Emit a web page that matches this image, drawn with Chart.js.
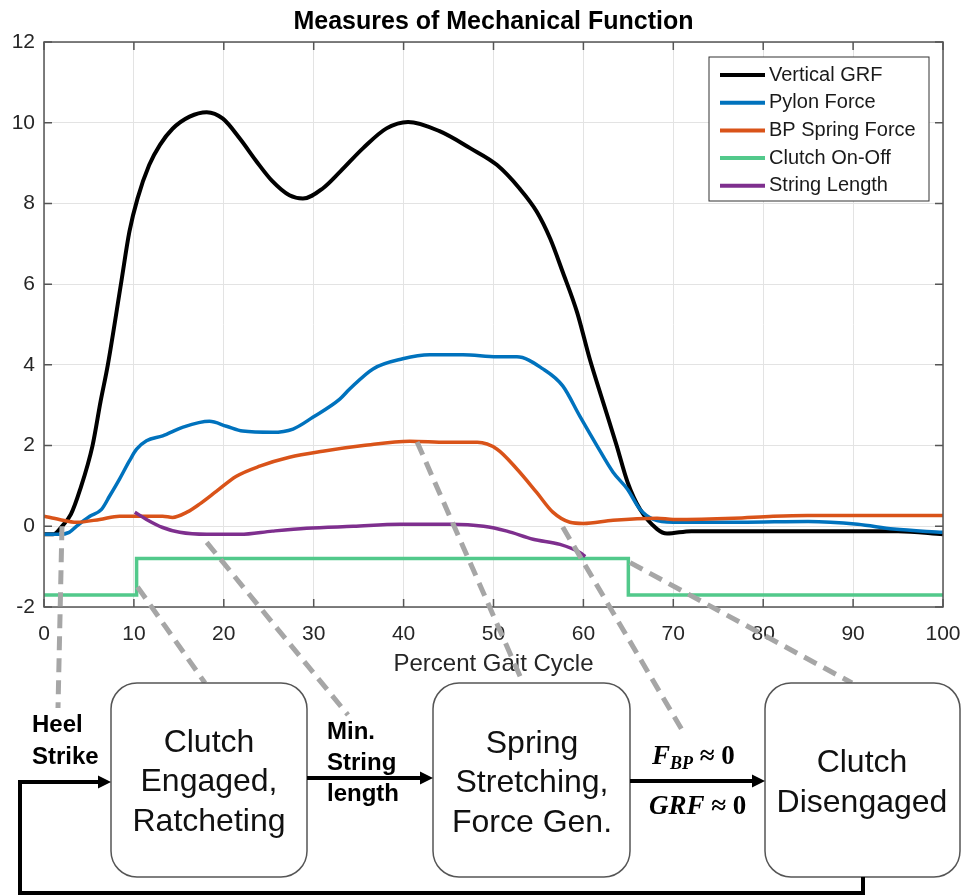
<!DOCTYPE html>
<html>
<head>
<meta charset="utf-8">
<script src="https://cdn.jsdelivr.net/npm/chart.js@4.4.1/dist/chart.umd.min.js"></script>
<style>
	html, body { margin: 0; padding: 0; background: #fff; }
	#wrap { position: relative; width: 966px; height: 895px; }
</style>
</head>
<body>
<div id="wrap"><canvas id="chart"></canvas></div>
<script>
// percent gait cycle (x) and value (y) for each trace
const grfPct = [0, 1, 2, 3, 4, 5.4, 6.3, 7.1, 8.6, 9.5, 10.4, 11.7, 12.9, 14.3, 16.2, 18.1, 19.9, 21.8, 23.6, 25.4, 27.3, 28.8, 31, 33, 35.5, 38.1, 40.5, 44, 47.4, 50.4, 52.9, 54.8, 56.3, 57.7, 59.3, 60.7, 62.2, 63.7, 64.9, 66.3, 68.2, 69.3, 72, 80, 90, 95, 100];
const grfVal = [-0.2, -0.2, 0, 0.3, 0.9, 2.0, 3.1, 4.0, 6.06, 7.3, 8.12, 8.95, 9.45, 9.85, 10.15, 10.26, 10.1, 9.6, 9.05, 8.55, 8.2, 8.12, 8.37, 8.8, 9.37, 9.86, 10.02, 9.79, 9.37, 8.95, 8.37, 7.8, 7.13, 6.3, 5.3, 4.15, 3.07, 2.0, 1.1, 0.42, -0.07, -0.18, -0.12, -0.12, -0.12, -0.12, -0.2];

const pylonPct = [0, 1.7, 2.8, 3.6, 5.1, 6.4, 7.3, 8.4, 9.5, 10.3, 11.4, 13.2, 15.4, 18.4, 20.3, 22.1, 25.4, 27.7, 29.9, 32.9, 34, 36.6, 39.9, 42.9, 46.6, 50.4, 52.6, 55.5, 57.7, 59.6, 61.5, 63.3, 64.9, 66.3, 67.8, 70, 77.5, 85, 90.5, 94.5, 100];
const pylonVal = [-0.2, -0.2, -0.15, 0, 0.25, 0.42, 0.75, 1.17, 1.62, 1.91, 2.12, 2.24, 2.45, 2.6, 2.48, 2.36, 2.33, 2.41, 2.7, 3.15, 3.4, 3.9, 4.15, 4.25, 4.25, 4.2, 4.2, 3.9, 3.48, 2.73, 2.0, 1.34, 0.92, 0.42, 0.17, 0.1, 0.1, 0.12, 0.05, -0.07, -0.15];

const springPct = [0, 1.7, 3.6, 6.2, 8.4, 10.3, 13.2, 14.3, 15.9, 17.3, 19.2, 21.4, 24, 27.3, 31, 35.5, 40.7, 44.8, 48.2, 50.4, 52.6, 54.8, 56.6, 58.5, 60, 63.3, 68.2, 70, 76.7, 81.1, 84.9, 100];
const springVal = [0.25, 0.17, 0.1, 0.17, 0.25, 0.25, 0.25, 0.22, 0.35, 0.55, 0.87, 1.24, 1.49, 1.71, 1.86, 2.0, 2.11, 2.08, 2.08, 1.91, 1.42, 0.84, 0.35, 0.1, 0.07, 0.15, 0.2, 0.17, 0.2, 0.25, 0.27, 0.27];

const clutchPct = [0, 10.3, 65, 100];
const clutchVal = [-1.7, -0.8, -1.7, -1.7];

const stringPct = [10.1, 11.4, 13.2, 15.1, 18.1, 21.8, 25.4, 29.2, 34.4, 39.6, 45.2, 48.9, 51.5, 54.4, 57.4, 59.6, 60.2];
const stringVal = [0.35, 0.17, -0.03, -0.15, -0.2, -0.2, -0.12, -0.05, 0, 0.05, 0.05, 0, -0.12, -0.32, -0.45, -0.65, -0.75];

const seriesNames = ["Vertical GRF", "Pylon Force", "BP Spring Force", "Clutch On-Off", "String Length"];
const seriesColors = ["#000000", "#0072BD", "#D95319", "#52C98B", "#7E2F8E"];

// dashed callouts: start on the plot (data units) -> end at the diagram below
const calloutFrom = [[2, 0], [10.4, -1.5], [18.1, -0.4], [41.5, 2.09], [57.7, -0.02], [65.2, -0.9]];
const calloutTo = [[58, 708], [205, 683], [348, 715], [523, 683], [685, 735], [852, 683]];

const SANS = "'Liberation Sans', Arial, sans-serif";
const SERIF = "'Liberation Serif', 'DejaVu Serif', serif";

function pairs(xs, ys) {
	return xs.map((x, i) => ({ x: x, y: ys[i] }));
}

const traces = [
	pairs(grfPct, grfVal),
	pairs(pylonPct, pylonVal),
	pairs(springPct, springVal),
	pairs(clutchPct, clutchVal),
	pairs(stringPct, stringVal),
];

const datasets = traces.map((d, i) => ({
	label: seriesNames[i],
	data: d,
	borderColor: seriesColors[i],
	backgroundColor: seriesColors[i],
	borderWidth: i === 0 ? 4 : 3.5,
	pointRadius: 0,
	cubicInterpolationMode: "monotone",
	stepped: i === 3 ? "before" : false,
	order: 5 - i,
}));

// axes box with inward ticks, like the original plot
const axesBox = {
	id: "axesBox",
	afterDatasetsDraw(chart) {
		const { ctx, chartArea: a, scales } = chart;
		ctx.save();
		ctx.strokeStyle = "#555";
		ctx.lineWidth = 1.5;
		ctx.strokeRect(a.left, a.top, a.right - a.left, a.bottom - a.top);
		ctx.beginPath();
		scales.x.ticks.forEach((t) => {
			const px = scales.x.getPixelForValue(t.value);
			ctx.moveTo(px, a.bottom); ctx.lineTo(px, a.bottom - 8);
			ctx.moveTo(px, a.top); ctx.lineTo(px, a.top + 8);
		});
		scales.y.ticks.forEach((t) => {
			const py = scales.y.getPixelForValue(t.value);
			ctx.moveTo(a.left, py); ctx.lineTo(a.left + 8, py);
			ctx.moveTo(a.right, py); ctx.lineTo(a.right - 8, py);
		});
		ctx.stroke();

		// legend box in the upper right corner
		const lx = a.right - 234, ly = a.top + 15, lw = 220, lh = 144;
		ctx.fillStyle = "#fff";
		ctx.fillRect(lx, ly, lw, lh);
		ctx.strokeStyle = "#333";
		ctx.lineWidth = 1;
		ctx.strokeRect(lx, ly, lw, lh);
		ctx.font = "20px " + SANS;
		ctx.textBaseline = "middle";
		ctx.textAlign = "left";
		chart.data.datasets.forEach((ds, i) => {
			const ry = ly + 18 + i * 27.7;
			ctx.strokeStyle = ds.borderColor;
			ctx.lineWidth = 4;
			ctx.beginPath();
			ctx.moveTo(lx + 11, ry);
			ctx.lineTo(lx + 56, ry);
			ctx.stroke();
			ctx.fillStyle = "#1a1a1a";
			ctx.fillText(ds.label, lx + 60, ry);
		});
		ctx.restore();
	},
};

function arrow(ctx, x1, y1, x2, y2) {
	ctx.beginPath();
	ctx.moveTo(x1, y1);
	ctx.lineTo(x2 - 12, y2);
	ctx.stroke();
	ctx.beginPath();
	ctx.moveTo(x2, y2);
	ctx.lineTo(x2 - 13, y2 - 6.5);
	ctx.lineTo(x2 - 13, y2 + 6.5);
	ctx.closePath();
	ctx.fill();
}

function roundBox(ctx, x, y, w, h, r) {
	ctx.beginPath();
	ctx.roundRect(x, y, w, h, r);
	ctx.fillStyle = "#fff";
	ctx.fill();
	ctx.strokeStyle = "#555";
	ctx.lineWidth = 1.5;
	ctx.stroke();
}

function lines(ctx, textLines, cx, ys) {
	textLines.forEach((t, i) => ctx.fillText(t, cx, ys[i]));
}

// state diagram under the plot
const stateDiagram = {
	id: "stateDiagram",
	afterDraw(chart) {
		const { ctx, scales } = chart;
		ctx.save();

		// gray dashed callouts
		ctx.strokeStyle = "#A6A6A6";
		ctx.lineWidth = 5;
		ctx.setLineDash([14, 8]);
		calloutFrom.forEach((p, i) => {
			ctx.beginPath();
			ctx.moveTo(scales.x.getPixelForValue(p[0]), scales.y.getPixelForValue(p[1]));
			ctx.lineTo(calloutTo[i][0], calloutTo[i][1]);
			ctx.stroke();
		});
		ctx.setLineDash([]);

		// boxes
		roundBox(ctx, 111, 683, 196, 194, 26);
		roundBox(ctx, 433, 683, 197, 194, 26);
		roundBox(ctx, 765, 683, 195, 194, 26);

		ctx.fillStyle = "#111";
		ctx.textAlign = "center";
		ctx.textBaseline = "middle";
		ctx.font = "32px " + SANS;
		lines(ctx, ["Clutch", "Engaged,", "Ratcheting"], 209, [743, 782, 822]);
		lines(ctx, ["Spring", "Stretching,", "Force Gen."], 532, [744, 783, 823]);
		lines(ctx, ["Clutch", "Disengaged"], 862, [763, 803]);

		// arrows and return path
		ctx.strokeStyle = "#000";
		ctx.fillStyle = "#000";
		ctx.lineWidth = 4;
		ctx.beginPath();
		ctx.moveTo(863, 877);
		ctx.lineTo(863, 893);
		ctx.lineTo(20, 893);
		ctx.lineTo(20, 782);
		ctx.stroke();
		arrow(ctx, 18, 782, 111, 782);
		arrow(ctx, 307, 778, 433, 778);
		arrow(ctx, 630, 781, 765, 781);

		// transition labels
		ctx.textAlign = "left";
		ctx.font = "bold 24px " + SANS;
		lines(ctx, ["Heel", "Strike"], 32, [725, 757]);
		lines(ctx, ["Min.", "String", "length"], 327, [732, 763, 794]);

		ctx.font = "italic bold 27px " + SERIF;
		ctx.fillText("F", 652, 757);
		let w = ctx.measureText("F").width;
		ctx.font = "italic bold 18px " + SERIF;
		ctx.fillText("BP", 652 + w, 764);
		w += ctx.measureText("BP").width;
		ctx.font = "bold 27px " + SERIF;
		ctx.fillText(" \u2248 0", 652 + w, 757);

		ctx.font = "italic bold 27px " + SERIF;
		ctx.fillText("GRF", 649, 807);
		w = ctx.measureText("GRF").width;
		ctx.font = "bold 27px " + SERIF;
		ctx.fillText(" \u2248 0", 649 + w, 807);

		ctx.restore();
	},
};

new Chart(document.getElementById("chart"), {
	type: "line",
	data: { datasets: datasets },
	plugins: [axesBox, stateDiagram],
	options: {
		responsive: true,
		maintainAspectRatio: false,
		animation: false,
		events: [],
		layout: { padding: { left: 0, top: 0, right: 23, bottom: 216 } },
		plugins: {
			legend: { display: false },
			tooltip: { enabled: false },
			title: {
				display: true,
				fullSize: false,
				text: "Measures of Mechanical Function",
				color: "#000",
				font: { family: SANS, size: 25, weight: "bold", lineHeight: 1.2 },
				padding: { top: 7, bottom: 5 },
			},
		},
		scales: {
			x: {
				type: "linear",
				min: 0,
				max: 100,
				ticks: { stepSize: 10, color: "#262626", padding: 15, font: { family: SANS, size: 21 } },
				grid: { color: "#e3e3e3", drawTicks: false },
				border: { display: false },
				title: {
					display: true,
					text: "Percent Gait Cycle",
					color: "#262626",
					font: { family: SANS, size: 24, lineHeight: 1.2 },
					padding: 0,
				},
				afterFit(scale) {
					scale.height = 72;
					// let the last tick label hang into the right margin
					scale.paddingLeft = 0;
					scale.paddingRight = 0;
				},
			},
			y: {
				min: -2,
				max: 12,
				ticks: { stepSize: 2, color: "#262626", padding: 9, font: { family: SANS, size: 21 } },
				grid: { color: "#e3e3e3", drawTicks: false },
				border: { display: false },
				afterFit(scale) { scale.width = 44; },
			},
		},
	},
});
</script>
</body>
</html>
